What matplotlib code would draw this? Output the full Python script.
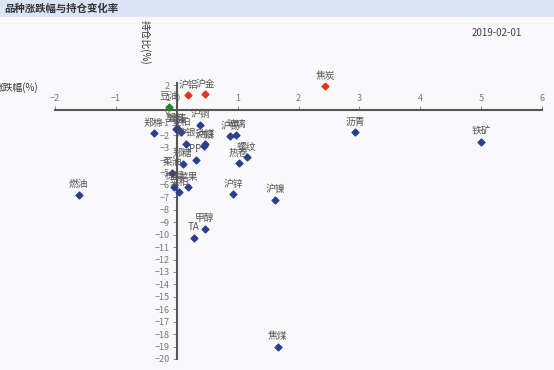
import matplotlib
matplotlib.use("Agg")
from matplotlib import pyplot as plt
from matplotlib.patches import Rectangle

plt.rcParams['font.family'] = ['Noto Sans CJK SC', 'DejaVu Sans']

# 涨跌幅(%) / 持仓比(%)
up_names = ['沪铝', '沪金', '焦炭']
up_x = [0.19, 0.47, 2.44]
up_y = [1.2, 1.3, 1.94]

flat_names = ['豆油']
flat_x = [-0.13]
flat_y = [0.27]

down_names = ['郑棉', '塑料', '鸡蛋', '豆粕', '沪铜', '沪银', '动煤', '沪铅', 'PP', '郑糖',
              '菜油', '棕榈', '菜粕', '苹果', '沪锡', '玻璃', '螺纹', '热卷', '沪锌', '沪镍',
              '沥青', '铁矿', '燃油', '甲醇', 'TA', '焦煤']
down_x = [-0.38, -0.02, 0.02, 0.07, 0.39, 0.15, 0.47, 0.45, 0.31, 0.10,
          -0.08, -0.04, 0.04, 0.19, 0.88, 0.98, 1.15, 1.02, 0.93, 1.62,
          2.93, 5.00, -1.61, 0.46, 0.28, 1.66]
down_y = [-1.86, -1.46, -1.54, -1.78, -1.16, -2.67, -2.72, -2.85, -3.98, -4.30,
          -5.02, -6.14, -6.60, -6.17, -2.07, -1.97, -3.76, -4.24, -6.76, -7.20,
          -1.75, -2.56, -6.81, -9.52, -10.27, -19.0]

x_ticks = [-2, -1, 0, 1, 2, 3, 4, 5, 6]
y_ticks = list(range(-20, 3))

fig = plt.figure(figsize=(5.54, 3.70), dpi=100, facecolor='#f9f9fb')
fig.patches.append(Rectangle((0, 1 - 17 / 370), 1, 17 / 370, transform=fig.transFigure,
                             facecolor='#d9e5f4', edgecolor='none', zorder=0))
fig.text(4 / 554, 1 - 8.5 / 370, '品种涨跌幅与持仓变化率', fontsize=7.5, fontweight='bold',
         color='#333333', va='center', ha='left')
fig.text(497 / 554, 1 - 33 / 370, '2019-02-01', fontsize=7, color='#444444', ha='center', va='center')

ax = fig.add_axes([55 / 554, 11 / 370, 487 / 554, 276 / 370])
ax.set_facecolor('none')

ax.scatter(down_x, down_y, marker='D', s=12, color='#2b3f8f', zorder=3)
ax.scatter(up_x, up_y, marker='D', s=12, color='#e5321b', zorder=3)
ax.scatter(flat_x, flat_y, marker='D', s=12, color='#1f8a1f', zorder=3)

for names, xs, ys in [(down_names, down_x, down_y), (up_names, up_x, up_y), (flat_names, flat_x, flat_y)]:
    for n, x, y in zip(names, xs, ys):
        ax.annotate(n, (x, y), xytext=(0, 4), textcoords='offset points', ha='center', va='bottom',
                    fontsize=7, color='#555555', zorder=4)

ax.set_xlim(-2, 6)
ax.set_ylim(-20, 2.2)
ax.spines['left'].set_position(('data', 0))
ax.spines['top'].set_position(('data', 0))
ax.spines['right'].set_visible(False)
ax.spines['bottom'].set_visible(False)
for s in ['left', 'top']:
    ax.spines[s].set_color('#555555')
    ax.spines[s].set_linewidth(1.5)
ax.xaxis.set_ticks_position('top')
ax.yaxis.set_ticks_position('left')
ax.set_xticks(x_ticks)
ax.set_yticks(y_ticks)
ax.tick_params(axis='both', labelsize=6.5, colors='#777777', length=3, width=0.6, pad=2)
ax.tick_params(axis='x', labelcolor='#777777')

fig.text(-6 / 554, 1 - 88 / 370, '涨跌幅(%)', fontsize=7, color='#333333', ha='left', va='center')
fig.text(145 / 554, 1 - 42 / 370, '持仓比(%)', fontsize=7, color='#333333', rotation=-90,
         ha='center', va='center')

plt.savefig('out.png', dpi=100, facecolor=fig.get_facecolor())
